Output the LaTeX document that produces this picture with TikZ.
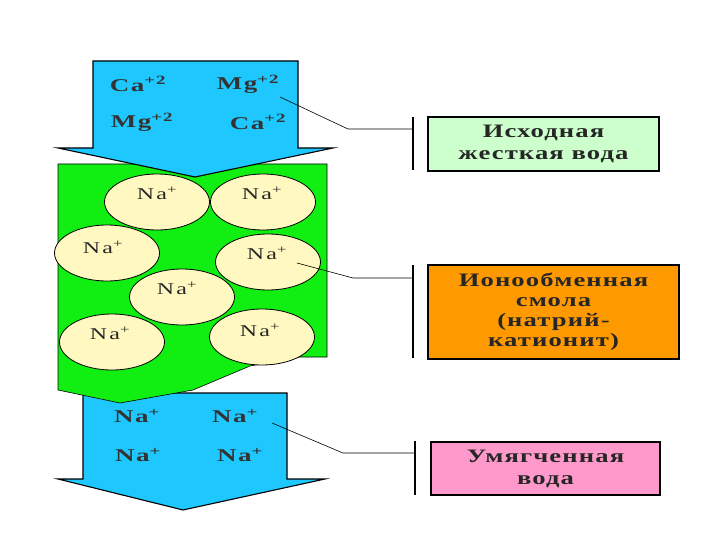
\documentclass[tikz,border=0pt]{standalone}
\usepackage{fontspec}
\setmainfont{Liberation Serif}
\newfontfamily\boxfont[FakeStretch=1.4,LetterSpace=6]{Liberation Serif Bold}
\newfontfamily\ionfont[FakeStretch=1.5,LetterSpace=8]{Liberation Serif Bold}
\newfontfamily\beadfont[FakeStretch=1.45,LetterSpace=14]{Liberation Serif}
\usetikzlibrary{shapes.geometric}
\definecolor{arrowblue}{HTML}{1EC8FF}
\definecolor{resingreen}{HTML}{11EE11}
\definecolor{beadyellow}{HTML}{FFF8C0}
\definecolor{boxgreen}{HTML}{CCFFCC}
\definecolor{boxorange}{HTML}{FF9900}
\definecolor{boxpink}{HTML}{FF99CC}
\tikzset{
  flowarrow/.style={fill=arrowblue, draw=black, line width=1.1pt, line join=miter},
  resin/.style={fill=resingreen, draw=black, line width=0.6pt},
  bead/.style={ellipse, fill=beadyellow, draw=black, line width=0.8pt, minimum width=105pt, minimum height=56pt, inner sep=0pt},
  beadtext/.style={font=\beadfont\fontsize{16.5}{19}\selectfont, inner sep=0pt, text=black!85},
  iontext/.style={font=\ionfont\fontsize{18}{20}\selectfont, inner sep=0pt, text=black!80},
  infobox/.style={draw=black, line width=1.2pt, align=center, inner sep=0pt,
    font=\boxfont\fontsize{19}{20}\selectfont, text=black!85},
  leader/.style={draw=black, line width=0.6pt},
  bar/.style={draw=black, line width=1.8pt}
}
\begin{document}
\begin{tikzpicture}[x=1pt,y=-1pt]
\useasboundingbox (0,0) rectangle (720,540);
\fill[white] (0,0) rectangle (720,540);

% lower blue arrow (softened water)
\draw[flowarrow] (83,393) -- (287,393) -- (287,479) -- (325,479) -- (183,510) -- (58,479) -- (83,479) -- cycle;

% green resin block
\draw[resin] (58,164) -- (327,164) -- (327,357) -- (300,357) -- (250,366) -- (193,390) -- (120,403) -- (58,390) -- cycle;

% upper blue arrow (hard water)
\draw[flowarrow] (93,61) -- (298,61) -- (298,148) -- (333,148) -- (195,177) -- (58,148) -- (93,148) -- cycle;

% beads
\node[bead] (c1) at (157,202) {};
\node[bead] (c2) at (263,202) {};
\node[bead] (c3) at (107,253) {};
\node[bead] (c4) at (268,262) {};
\node[bead] (c5) at (182,297) {};
\node[bead] (c6) at (112,342) {};
\node[bead] (c7) at (262,337) {};
\node[beadtext] (t1) at (157,193) {Na\textsuperscript{+}};
\node[beadtext] (t2) at (262,193) {Na\textsuperscript{+}};
\node[beadtext] (t3) at (103,247) {Na\textsuperscript{+}};
\node[beadtext] (t4) at (267,253) {Na\textsuperscript{+}};
\node[beadtext] (t5) at (177,288) {Na\textsuperscript{+}};
\node[beadtext] (t6) at (110,333) {Na\textsuperscript{+}};
\node[beadtext] (t7) at (260,330) {Na\textsuperscript{+}};

% ions in upper arrow
\node[iontext] (i1) at (138,84) {Ca\textsuperscript{+2}};
\node[iontext] (i2) at (248,84) {Mg\textsuperscript{+2}};
\node[iontext] (i3) at (142,122) {Mg\textsuperscript{+2}};
\node[iontext] (i4) at (258,122) {Ca\textsuperscript{+2}};

% ions in lower arrow
\node[iontext] (n1) at (137,416) {Na\textsuperscript{+}};
\node[iontext] (n2) at (235,416) {Na\textsuperscript{+}};
\node[iontext] (n3) at (138,455) {Na\textsuperscript{+}};
\node[iontext] (n4) at (240,455) {Na\textsuperscript{+}};

% info boxes
\node[infobox, fill=boxgreen, minimum width=231pt, minimum height=54pt] (b1) at (543.5,144) {Исходная\\[2pt]жесткая вода};
\node[infobox, fill=boxorange, minimum width=251pt, minimum height=94pt] (b2) at (553.5,312) {Ионообменная\\смола\\(натрий-\\катионит)};
\node[infobox, fill=boxpink, minimum width=229pt, minimum height=53pt] (b3) at (545.5,468.5) {Умягченная\\[2pt]вода};

% leader lines with bars
\coordinate (s1) at (280,97);
\coordinate (k1) at (348,129);
\coordinate (e1) at (413,129);
\coordinate (p1a) at (413,117);
\coordinate (p1b) at (413,170);
\draw[leader] (s1) -- (k1) -- (e1);
\draw[bar] (p1a) -- (p1b);

\coordinate (s2) at (297,263);
\coordinate (k2) at (353,278);
\coordinate (e2) at (413,278);
\coordinate (p2a) at (413,265);
\coordinate (p2b) at (413,358);
\draw[leader] (s2) -- (k2) -- (e2);
\draw[bar] (p2a) -- (p2b);

\coordinate (s3) at (272,423);
\coordinate (k3) at (343,453);
\coordinate (e3) at (415,453);
\coordinate (p3a) at (415,441);
\coordinate (p3b) at (415,495);
\draw[leader] (s3) -- (k3) -- (e3);
\draw[bar] (p3a) -- (p3b);
\end{tikzpicture}
\end{document}
